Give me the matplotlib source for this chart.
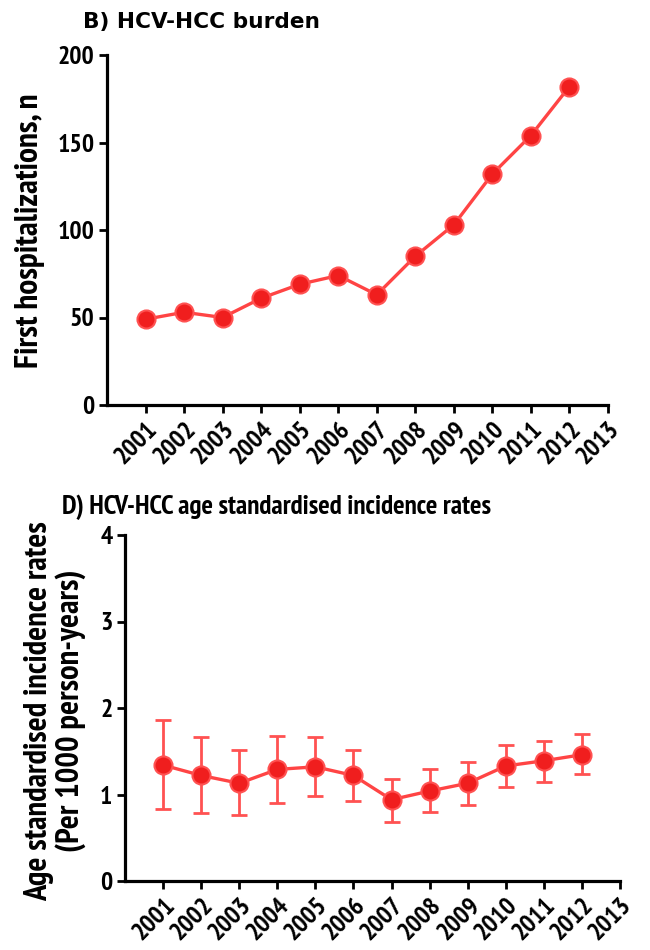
import matplotlib
matplotlib.use("Agg")
import matplotlib.pyplot as plt
from matplotlib import font_manager

def _w(v):
    if isinstance(v, (int, float)):
        return v
    return {'bold': 700, 'heavy': 800, 'black': 900, 'semibold': 600, 'demibold': 600,
            'extra bold': 800, 'ultrabold': 800}.get(str(v).lower(), 400)

entries = font_manager.fontManager.ttflist
candidates = ['Liberation Sans Narrow', 'Arial Narrow', 'Nimbus Sans Narrow', 'PT Sans Narrow',
              'Roboto Condensed', 'Fira Sans Condensed', 'IBM Plex Sans Condensed',
              'Archivo Narrow', 'Open Sans Condensed', 'Asap Condensed',
              'Encode Sans Semi Condensed', 'Barlow Semi Condensed']
NARROW = 'Liberation Sans'
for c in candidates:
    if any(e.name == c and _w(e.weight) >= 700 for e in entries):
        NARROW = c
        break
plt.rcParams['font.family'] = [NARROW, 'DejaVu Sans']
plt.rcParams['font.weight'] = 'bold'

years = [2001, 2002, 2003, 2004, 2005, 2006, 2007, 2008, 2009, 2010, 2011, 2012]
tick_years = [2001, 2002, 2003, 2004, 2005, 2006, 2007, 2008, 2009, 2010, 2011, 2012, 2013]
hospitalizations = [49, 53, 50, 61, 69, 74, 63, 85, 103, 132, 154, 182]
rates = [1.34, 1.22, 1.13, 1.29, 1.32, 1.22, 0.94, 1.04, 1.13, 1.33, 1.39, 1.46]
rates_upper = [1.86, 1.66, 1.51, 1.68, 1.67, 1.52, 1.18, 1.30, 1.37, 1.57, 1.62, 1.70]
rates_lower = [0.83, 0.79, 0.76, 0.90, 0.98, 0.92, 0.68, 0.80, 0.88, 1.09, 1.15, 1.24]

LINE = '#ff4444'
FACE = '#f01e1e'
EDGE = '#ff5252'
W, H = 650, 950

fig = plt.figure(figsize=(6.5, 9.5), dpi=100)
ax1 = fig.add_axes([107/W, 1-405/H, 501/W, 350/H])
ax2 = fig.add_axes([125/W, 1-881/H, 495/W, 346/H])

def style(ax):
    for s in ['top', 'right']:
        ax.spines[s].set_visible(False)
    for s in ['left', 'bottom']:
        ax.spines[s].set_linewidth(2.3)
    ax.tick_params(axis='both', length=6, width=2, labelsize=18, pad=3)
    ax.set_xlim(2000, 2013)
    ax.set_xticks(tick_years)
    ax.set_xticklabels([str(y) for y in tick_years], rotation=45, ha='right',
                       rotation_mode='anchor', fontweight='bold', fontsize=18)
    for lab in ax.get_yticklabels():
        lab.set_fontweight('bold')

def series(ax, x, y):
    ax.plot(x, y, color=LINE, lw=2.4, marker='o', markersize=13,
            markerfacecolor=FACE, markeredgecolor=EDGE, markeredgewidth=1.5,
            clip_on=False, zorder=3)

# Top panel
series(ax1, years, hospitalizations)
ax1.set_ylim(0, 200)
ax1.set_yticks([0, 50, 100, 150, 200])
style(ax1)
ylab1 = fig.text(30/W, 1-231/H, 'First hospitalizations, n', fontsize=18, fontweight='bold',
                 rotation=90, ha='center', va='center')
t1 = fig.text(83/W, 1-22/H, 'B) HCV-HCC burden', fontsize=15, fontweight='bold',
              family=['DejaVu Sans'], va='center', ha='left')

# Bottom panel
yerr = [[r - l for r, l in zip(rates, rates_lower)], [u - r for r, u in zip(rates, rates_upper)]]
ax2.errorbar(years, rates, yerr=yerr, fmt='none', ecolor=EDGE, elinewidth=2,
             capsize=6, capthick=2, zorder=2)
series(ax2, years, rates)
ax2.set_ylim(0, 4)
ax2.set_yticks([0, 1, 2, 3, 4])
style(ax2)
ylab2 = fig.text(55/W, 1-711/H, 'Age standardised incidence rates\n(Per 1000 person-years)',
                 fontsize=18, fontweight='bold', rotation=90, ha='center', va='center',
                 multialignment='center', linespacing=1.05)
t2 = fig.text(62/W, 1-507/H, 'D) HCV-HCC age standardised incidence rates', fontsize=15,
              fontweight='bold', va='center', ha='left')

# fit text sizes to the reference layout
fig.canvas.draw()
r = fig.canvas.get_renderer()
def scale_for(t, target, horiz=True):
    bb = t.get_window_extent(r)
    cur = bb.width if horiz else bb.height
    return target / cur
t1.set_fontsize(t1.get_fontsize() * scale_for(t1, 237))
t2.set_fontsize(t2.get_fontsize() * scale_for(t2, 431))
ylab1.set_fontsize(ylab1.get_fontsize() * scale_for(ylab1, 275, horiz=False))
ylab2.set_fontsize(ylab2.get_fontsize() * scale_for(ylab2, 380, horiz=False))
# tick label size from the "200" label width (37 px)
lab200 = [l for l in ax1.get_yticklabels() if l.get_text() == '200'][0]
ts = 18 * scale_for(lab200, 37)
for ax in (ax1, ax2):
    for lab in ax.get_xticklabels() + ax.get_yticklabels():
        lab.set_fontsize(ts)

fig.savefig('out.png', dpi=100)
